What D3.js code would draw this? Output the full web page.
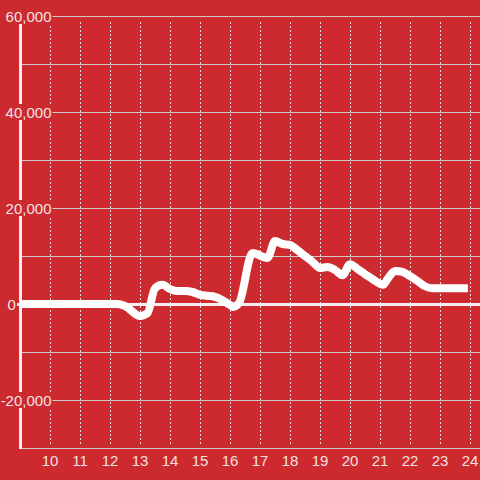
<!DOCTYPE html>
<html>
<head>
<meta charset="utf-8">
<script src="https://cdn.jsdelivr.net/npm/d3@7/dist/d3.min.js"></script>
<style>
  html, body { margin: 0; padding: 0; background: #cc2a2f; }
  svg { display: block; }
  text { font-family: "Liberation Sans", Arial, sans-serif; }
</style>
</head>
<body>
<svg id="chart" width="480" height="480"></svg>
<script>
// ---- data ----
const hours = [9, 12.25, 12.5, 13.0, 13.25, 13.5, 13.75, 14.0, 14.25, 14.5, 14.75, 15.0, 15.25, 15.5, 15.75, 16.0, 16.1, 16.3, 16.75, 17.25, 17.5, 17.75, 18.0, 18.25, 18.5, 18.75, 19.0, 19.25, 19.5, 19.75, 20.0, 20.25, 20.5, 20.75, 21.0, 21.1, 21.25, 21.5, 21.75, 22.0, 22.25, 22.5, 22.75, 23.0, 23.5, 23.93];
const values = [0, 0, -400, -2500, -1900, 3300, 4000, 3100, 2700, 2700, 2500, 1900, 1700, 1500, 800, -200, -600, 200, 10600, 9600, 13100, 12500, 12300, 11200, 10000, 8800, 7500, 7700, 7100, 6000, 8300, 7300, 6200, 5200, 4200, 4000, 5200, 6900, 6700, 5800, 4800, 3700, 3300, 3300, 3300, 3300];
const xTicks = [10, 11, 12, 13, 14, 15, 16, 17, 18, 19, 20, 21, 22, 23, 24];
const yGrid = [-30000, -20000, -10000, 0, 10000, 20000, 30000, 40000, 50000, 60000];
const yLabels = [60000, 40000, 20000, 0, -20000];

(function () {
const data = hours.map((h, i) => ({ h, v: values[i] }));

const svg = d3.select("#chart");
const W = 480, H = 480;
const mLeft = 20, mRight = 480, mTop = 16, mBottom = 448;

const x = d3.scaleLinear().domain([9, 24 + 1/3]).range([mLeft, mRight]);
const y = d3.scaleLinear().domain([-30000, 60000]).range([mBottom, mTop]);

const bg = "#cc2a2f";
const txtColor = "#f3e1e1";

svg.append("rect").attr("width", W).attr("height", H).attr("fill", bg);

// horizontal gridlines
svg.append("g").selectAll("line").data(yGrid.filter(d => d !== 0)).join("line")
  .attr("x1", mLeft).attr("x2", mRight)
  .attr("y1", d => y(d) + 0.5).attr("y2", d => y(d) + 0.5)
  .attr("stroke", "#d0c8c8").attr("stroke-width", 1.2);

// vertical dotted gridlines
svg.append("g").selectAll("line").data(xTicks).join("line")
  .attr("x1", d => x(d) + 0.5).attr("x2", d => x(d) + 0.5)
  .attr("y1", mTop + 6).attr("y2", mBottom - 2)
  .attr("stroke", "#e8dede").attr("stroke-width", 1)
  .attr("stroke-dasharray", "2,2");

// vertical axis line
svg.append("line")
  .attr("x1", mLeft + 0.5).attr("x2", mLeft + 0.5)
  .attr("y1", mTop).attr("y2", mBottom + 1)
  .attr("stroke", "#f4eeee").attr("stroke-width", 3);

// zero line
svg.append("line")
  .attr("x1", mLeft - 3).attr("x2", mRight)
  .attr("y1", y(0) + 0.5).attr("y2", y(0) + 0.5)
  .attr("stroke", "#f4eeee").attr("stroke-width", 3);

// data line
const line = d3.line().x(d => x(d.h)).y(d => y(d.v)).curve(d3.curveMonotoneX);
svg.append("path").datum(data)
  .attr("d", line)
  .attr("fill", "none")
  .attr("stroke", "#ffffff")
  .attr("stroke-width", 8)
  .attr("stroke-linejoin", "round");

// y labels with background masks
const fmt = d3.format(",");
const yl = svg.append("g");
yLabels.forEach(v => {
  const g = yl.append("g");
  const t = g.append("text")
    .attr("y", y(v) + 5.5)
    .attr("font-size", 15)
    .attr("fill", txtColor)
    .text(fmt(v).replace("\u2212", "-"));
  if (v === 0) {
    t.attr("x", 7.5).attr("text-anchor", "start");
  } else {
    t.attr("x", 51.5).attr("text-anchor", "end");
  }
  const bb = t.node().getBBox();
  g.insert("rect", "text")
    .attr("x", bb.x - 1).attr("y", y(v) - 8)
    .attr("width", bb.width + 2).attr("height", 16)
    .attr("fill", bg);
});

// x labels
svg.append("g").selectAll("text").data(xTicks).join("text")
  .attr("x", d => x(d))
  .attr("y", 466)
  .attr("text-anchor", "middle")
  .attr("font-size", 15)
  .attr("fill", txtColor)
  .text(d => d);
})();
</script>
</body>
</html>
